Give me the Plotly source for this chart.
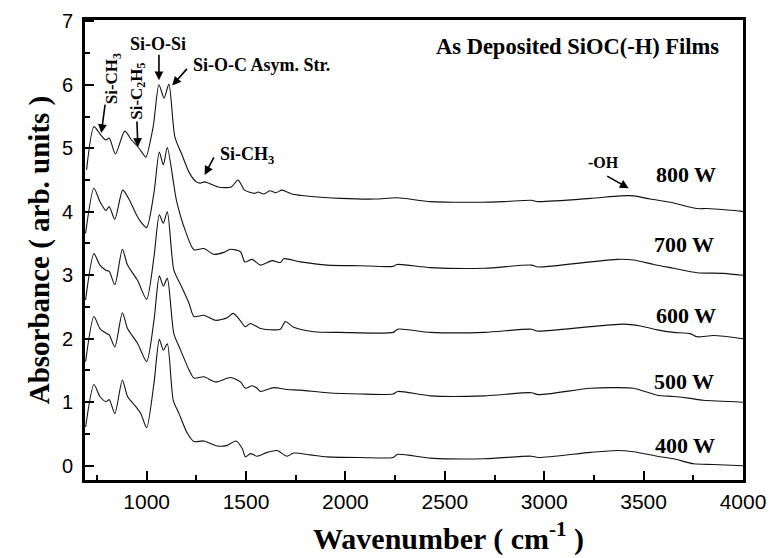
import plotly.graph_objects as go

# ---------------- data ----------------
wn_800 = [698, 735, 769, 794, 812, 843, 890, 924, 957, 980, 996, 1033, 1062, 1088, 1112, 1142, 1175, 1217,
          1250, 1270, 1292, 1359, 1426, 1460, 1493, 1543, 1560, 1590, 1620, 1650, 1680, 1700, 1730, 1828,
          1975, 2150, 2260, 2428, 2680, 2800, 2935, 2970, 3232, 3383, 3450, 3534, 3635, 3769, 3820, 3987, 4000]
abs_800 = [4.66, 5.34, 5.21, 5.13, 5.16, 4.91, 5.27, 5.13, 5.02, 4.92, 4.86, 5.34, 6.00, 5.79, 6.01, 5.18, 4.92, 4.60,
           4.47, 4.45, 4.47, 4.39, 4.39, 4.50, 4.34, 4.29, 4.31, 4.28, 4.33, 4.30, 4.34, 4.32, 4.28, 4.24,
           4.21, 4.20, 4.22, 4.16, 4.15, 4.16, 4.18, 4.16, 4.21, 4.25, 4.25, 4.20, 4.15, 4.05, 4.05, 4.01, 4.00]

wn_700 = [693, 735, 765, 795, 812, 840, 880, 913, 946, 971, 1000, 1037, 1064, 1084, 1104, 1150, 1196, 1238,
          1288, 1338, 1388, 1422, 1472, 1494, 1531, 1573, 1631, 1673, 1690, 1774, 1908, 2075, 2240, 2260,
          2428, 2700, 2935, 2970, 3232, 3366, 3450, 3551, 3651, 3769, 3903, 4000]
abs_700 = [3.66, 4.37, 4.16, 4.02, 4.08, 3.88, 4.34, 4.19, 3.97, 3.84, 3.75, 4.30, 4.94, 4.74, 5.01, 4.18, 3.69, 3.40,
           3.42, 3.33, 3.36, 3.41, 3.37, 3.21, 3.25, 3.16, 3.23, 3.20, 3.26, 3.21, 3.16, 3.15, 3.14, 3.17,
           3.12, 3.11, 3.16, 3.13, 3.21, 3.25, 3.24, 3.17, 3.11, 3.04, 3.03, 3.00]

wn_600 = [693, 735, 765, 795, 812, 840, 878, 904, 954, 1000, 1037, 1064, 1084, 1104, 1137, 1171, 1213, 1238,
          1288, 1347, 1405, 1436, 1472, 1497, 1522, 1573, 1640, 1673, 1698, 1740, 1841, 1975, 2240, 2263,
          2428, 2700, 2935, 2970, 3232, 3400, 3484, 3568, 3651, 3735, 3769, 3853, 4000]
abs_600 = [2.61, 3.34, 3.16, 3.08, 3.06, 2.85, 3.41, 3.16, 2.92, 2.62, 3.29, 3.95, 3.82, 4.00, 3.08, 2.85, 2.56, 2.35,
           2.37, 2.29, 2.33, 2.40, 2.28, 2.19, 2.24, 2.16, 2.14, 2.15, 2.27, 2.18, 2.11, 2.10, 2.10, 2.15,
           2.10, 2.10, 2.15, 2.12, 2.19, 2.23, 2.20, 2.14, 2.10, 2.08, 2.03, 2.05, 2.00]

wn_500 = [693, 735, 765, 795, 812, 840, 878, 904, 954, 1000, 1037, 1064, 1084, 1104, 1137, 1171, 1213, 1238,
          1288, 1347, 1422, 1472, 1497, 1531, 1556, 1573, 1640, 1706, 1774, 1908, 2075, 2240, 2263, 2428,
          2700, 2935, 2970, 3232, 3366, 3450, 3568, 3651, 3735, 3800, 4000]
abs_500 = [1.64, 2.35, 2.16, 2.09, 2.06, 1.87, 2.41, 2.16, 1.93, 1.64, 2.29, 2.99, 2.83, 2.95, 2.08, 1.82, 1.51, 1.38,
           1.40, 1.32, 1.39, 1.32, 1.22, 1.26, 1.22, 1.17, 1.23, 1.20, 1.19, 1.15, 1.13, 1.13, 1.17, 1.10,
           1.10, 1.15, 1.12, 1.22, 1.23, 1.22, 1.11, 1.09, 1.06, 1.03, 1.00]

wn_400 = [693, 735, 765, 795, 812, 840, 878, 904, 946, 971, 1000, 1037, 1064, 1084, 1104, 1134, 1163, 1205,
          1238, 1288, 1355, 1405, 1450, 1481, 1497, 1522, 1556, 1606, 1656, 1706, 1740, 1824, 1908, 2075,
          2240, 2263, 2428, 2700, 2935, 2970, 3232, 3366, 3450, 3568, 3651, 3752, 3850, 4000]
abs_400 = [0.61, 1.28, 1.09, 1.01, 1.04, 0.82, 1.35, 1.09, 0.93, 0.82, 0.60, 1.30, 1.99, 1.82, 1.92, 1.03, 0.82, 0.51,
           0.38, 0.39, 0.31, 0.32, 0.39, 0.27, 0.14, 0.19, 0.15, 0.21, 0.24, 0.15, 0.20, 0.17, 0.14, 0.13,
           0.13, 0.18, 0.12, 0.11, 0.15, 0.13, 0.21, 0.24, 0.22, 0.15, 0.11, 0.03, 0.02, 0.00]

series_labels = ["800 W", "700 W", "600 W", "500 W", "400 W"]
label_wn = [3711, 3705, 3711, 3705, 3708]
label_abs = [4.59, 3.49, 2.37, 1.33, 0.32]

x_tick_vals = [1000, 1500, 2000, 2500, 3000, 3500, 4000]
y_tick_vals = [0, 1, 2, 3, 4, 5, 6, 7]

# band annotations
band_text = ["Si-O-Si", "Si-O-C Asym. Str.", "Si-CH<sub>3</sub>", "-OH", "Si-CH<sub>3</sub>", "Si-C<sub>2</sub>H<sub>5</sub>"]
band_text_wn = [1055, 1579, 1503, 3299, 832, 955]
band_text_abs = [6.64, 6.31, 4.89, 4.77, 6.09, 5.90]
band_angle = [0, 0, 0, 0, -90, -90]
band_size = [18, 18, 18, 16, 17, 17]
arrow_wn = [1062, 1129, 1292, 3425, 772, 956]
arrow_abs = [6.07, 5.99, 4.58, 4.37, 5.24, 5.02]
arrow_ax = [0, 16, 10, -23, 4, -1]
arrow_ay = [-27, -18, -19, -13, -30, -27]

# ---------------- figure ----------------
fig = go.Figure()
series = [(wn_800, abs_800), (wn_700, abs_700), (wn_600, abs_600), (wn_500, abs_500), (wn_400, abs_400)]
for (wx, ay_), name in zip(series, series_labels):
    fig.add_trace(go.Scatter(x=wx, y=ay_, mode="lines", name=name,
                             line=dict(color="#111111", width=1.1, shape="spline", smoothing=0.7),
                             showlegend=False))

serif = "Times New Roman, Liberation Serif, serif"
sans = "Arial, Liberation Sans, sans-serif"

annotations = []
for t, xw, ya in zip(series_labels, label_wn, label_abs):
    annotations.append(dict(x=xw, y=ya, xref="x", yref="y", text="<b>%s</b>" % t, showarrow=False,
                            font=dict(family=serif, size=22, color="black"), xanchor="center", yanchor="middle"))

annotations.append(dict(x=3168, y=6.61, xref="x", yref="y", text="<b>As Deposited SiOC(-H) Films</b>",
                        showarrow=False, font=dict(family=serif, size=22.5, color="black"),
                        xanchor="center", yanchor="middle"))

for t, tx, ty, ang, sz in zip(band_text, band_text_wn, band_text_abs, band_angle, band_size):
    annotations.append(dict(x=tx, y=ty, xref="x", yref="y", text="<b>%s</b>" % t, showarrow=False,
                            textangle=ang, font=dict(family=serif, size=sz, color="black"),
                            xanchor="center", yanchor="middle"))

for hx, hy, axp, ayp in zip(arrow_wn, arrow_abs, arrow_ax, arrow_ay):
    annotations.append(dict(x=hx, y=hy, xref="x", yref="y", text="", showarrow=True,
                            ax=axp, ay=ayp, arrowhead=2, arrowsize=1.1, arrowwidth=1.6, arrowcolor="black"))

# x-axis title (sits right of centre in the reference)
annotations.append(dict(x=0.552, y=-0.122, xref="paper", yref="paper",
                        text="<b>Wavenumber ( cm<sup>-1</sup> )</b>", showarrow=False,
                        font=dict(family=serif, size=30, color="black"), xanchor="center", yanchor="middle"))

# page body has an 8 px default margin, so the figure is 8 px smaller and margins shifted
fig.update_layout(
    width=776, height=550,
    margin=dict(l=77, r=41, t=12, b=78, autoexpand=False),
    paper_bgcolor="white", plot_bgcolor="white",
    annotations=annotations,
    xaxis=dict(range=[690, 4000], tickvals=x_tick_vals, ticks="inside", ticklen=9, tickwidth=2,
               tickcolor="black", showline=True, linecolor="black", linewidth=3, mirror=True,
               showgrid=False, zeroline=False, ticklabelstandoff=1, automargin=False,
               minor=dict(dtick=250, tick0=750, ticks="inside", ticklen=5, tickwidth=2, tickcolor="black"),
               tickfont=dict(family=sans, size=21, color="black")),
    yaxis=dict(range=[-0.225, 7.02], tickvals=y_tick_vals, ticks="inside", ticklen=9, tickwidth=2,
               tickcolor="black", showline=True, linecolor="black", linewidth=3, mirror=True,
               showgrid=False, zeroline=False, ticklabelstandoff=5, automargin=False,
               minor=dict(dtick=0.5, tick0=0, ticks="inside", ticklen=5, tickwidth=2, tickcolor="black"),
               tickfont=dict(family=sans, size=20, color="black"),
               title=dict(text="<b>Absorbance ( arb. units )</b>", font=dict(family=serif, size=29, color="black"),
                          standoff=4)),
)

fig.write_html("out.html")
